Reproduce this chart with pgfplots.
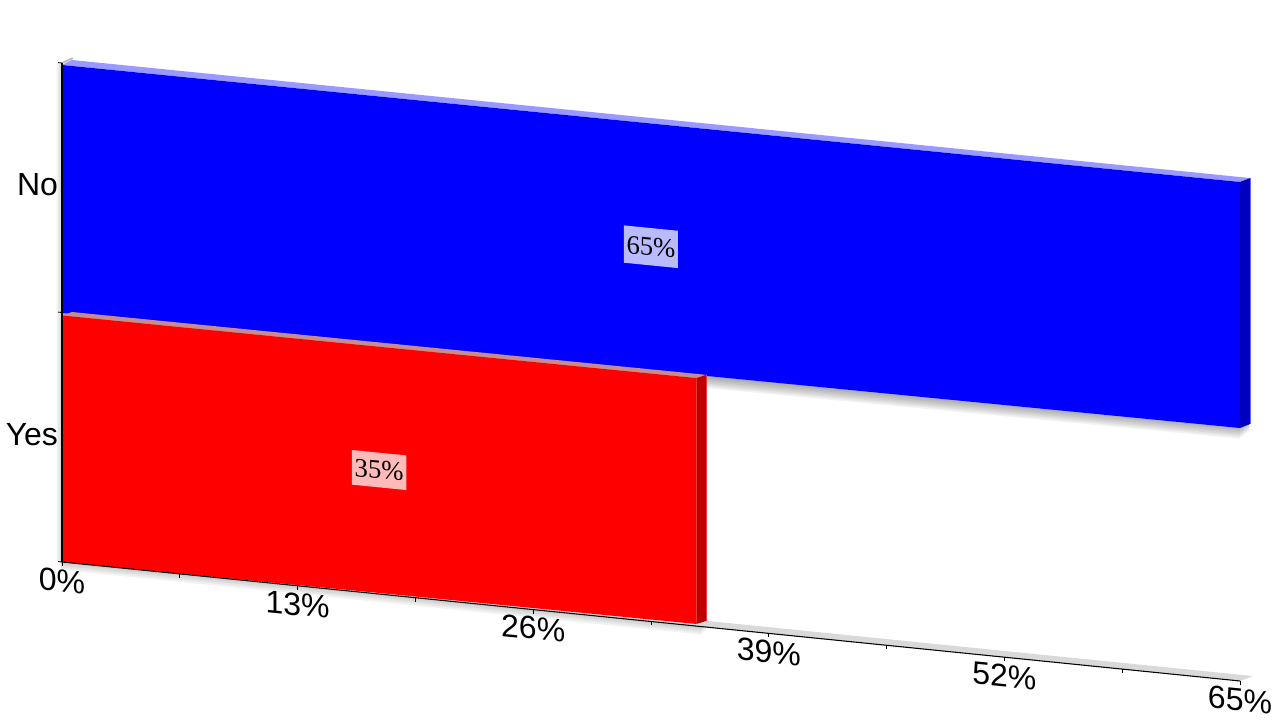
\documentclass[border=0pt]{standalone}
\usepackage{pgfplots}
\pgfplotsset{compat=1.18}
\usepackage{fontspec}
\setmainfont{Liberation Sans}
\newfontfamily\labelfont{Liberation Serif}

\definecolor{bluefront}{HTML}{0000FF}
\definecolor{bluetop}{HTML}{9999FF}
\definecolor{blueside}{HTML}{0000C0}
\definecolor{blueedge}{HTML}{6666FF}
\definecolor{redfront}{HTML}{FF0000}
\definecolor{redtop}{HTML}{C88C8C}
\definecolor{redside}{HTML}{C00000}
\definecolor{rededge}{HTML}{E04040}
\definecolor{floorgrey}{HTML}{D9D9D9}

% text follows the slope of the floor, verticals stay vertical
\newcommand\shear[2][]{\tikz[baseline=(s.base)]\node[yslant=-0.0993,transform shape,inner sep=0pt,#1](s){#2};}
\newcommand\face[2]{\addplot[draw=none,fill=#1,forget plot] coordinates {#2} -- cycle;}
\newcommand\soft[1]{\addplot[draw=none,fill=black,fill opacity=0.05,forget plot] coordinates {#1} -- cycle;}

\begin{document}
\begin{tikzpicture}
\useasboundingbox (0,0) rectangle (960pt,540pt);
\begin{axis}[
at={(46.5pt,118.5pt)},
anchor=origin,
x={(13.592pt,-1.373pt)},
y={(0pt,187.125pt)},
xmin=0, xmax=65,
ymin=0, ymax=2,
clip=false,
axis on top,
axis x line*=bottom,
axis y line*=left,
x axis line style={-,black,line width=0.8pt},
y axis line style={-,black,line width=1pt},
tick align=outside,
tick style={black,line width=0.6pt},
major tick length=3pt,
minor tick length=3pt,
xtick={0,13,26,39,52,65},
minor xtick={6.5,19.5,32.5,45.5,58.5},
xticklabels={\shear{0\%},\shear{13\%},\shear{26\%},\shear{39\%},\shear{52\%},\shear{65\%}},
x tick label style={anchor=center,yshift=-11pt},
ytick={0,1,2},
yticklabels={},
extra y ticks={0.5,1.5},
extra y tick labels={Yes,No},
extra y tick style={major tick length=0pt,y tick label style={anchor=east,xshift=0.5pt,yshift=2pt}},
tick label style={font=\fontsize{24}{28}\selectfont},
]
% floor and back wall edge
\face{floorgrey}{(0,0) (65,0) (65.72,0.025) (0.6,0.025)}
\addplot[gray!55,line width=1.3pt,forget plot] coordinates {(0,2.0) (0.6,2.024)};

% soft shadows
\soft{(-0.08,0) (35.5,0) (35.5,-0.008) (-0.08,-0.008)}
\soft{(-0.08,0) (35.5,0) (35.5,-0.016) (-0.08,-0.016)}
\soft{(-0.08,0) (35.4,0) (35.4,-0.024) (-0.08,-0.024)}
\soft{(-0.08,0) (35.3,0) (35.3,-0.032) (-0.08,-0.032)}
\soft{(-0.10,0) (0,0) (0,2) (-0.10,2)}
\soft{(-0.20,0) (0,0) (0,2) (-0.20,2)}
\soft{(-0.30,0) (0,0) (0,2) (-0.30,2)}
\soft{(0,1.0) (65.5,1.03) (65.5,1.0235) (0,0.9935)}
\soft{(0,1.0) (65.5,1.03) (65.5,1.017) (0,0.987)}
\soft{(0,1.0) (65.5,1.03) (65.5,1.0105) (0,0.9805)}
\soft{(0,1.0) (65.5,1.03) (65.5,1.004) (0,0.974)}
\soft{(0,1.0) (65.4,1.03) (65.4,0.9975) (0,0.9675)}
\soft{(0,1.0) (65.3,1.03) (65.3,0.991) (0,0.961)}
\soft{(0,1.0) (65.2,1.03) (65.2,0.9845) (0,0.9545)}
\soft{(0,1.0) (65.1,1.03) (65.1,0.978) (0,0.948)}
\soft{(0,1.0) (65.0,1.03) (65.0,0.9715) (0,0.9415)}

% No bar, 65
\face{bluetop}{(0,1.992) (65,2.0) (65.56,2.02) (0.55,2.016)}
\face{blueside}{(65,1.014) (65.56,1.034) (65.56,2.02) (65,2.0)}
\addplot[blueedge,line width=0.4pt,forget plot] coordinates {(65.56,1.034) (65.56,2.02)};
\face{bluefront}{(0,0.998) (65,1.014) (65,2.0) (0,1.992)}

% Yes bar, 35
\face{redtop}{(0,0.988) (35,0.994) (35.56,1.011) (0.55,1.006)}
\face{redside}{(35,0.0085) (35.56,0.025) (35.56,1.011) (35,0.994)}
\addplot[rededge,line width=0.3pt,forget plot] coordinates {(35.56,0.025) (35.56,1.011)};
\face{redfront}{(0,0) (35,0.0085) (35,0.994) (0,0.988)}

\node at (axis cs:32.5,1.502) {\shear[fill=blue!27!white,minimum width=40.5pt,minimum height=28pt]{\labelfont\fontsize{20}{23}\selectfont 65\%}};
\node at (axis cs:17.5,0.497) {\shear[fill=red!27!white,minimum width=41pt,minimum height=26pt]{\labelfont\fontsize{20}{23}\selectfont 35\%}};
\end{axis}
\end{tikzpicture}
\end{document}
